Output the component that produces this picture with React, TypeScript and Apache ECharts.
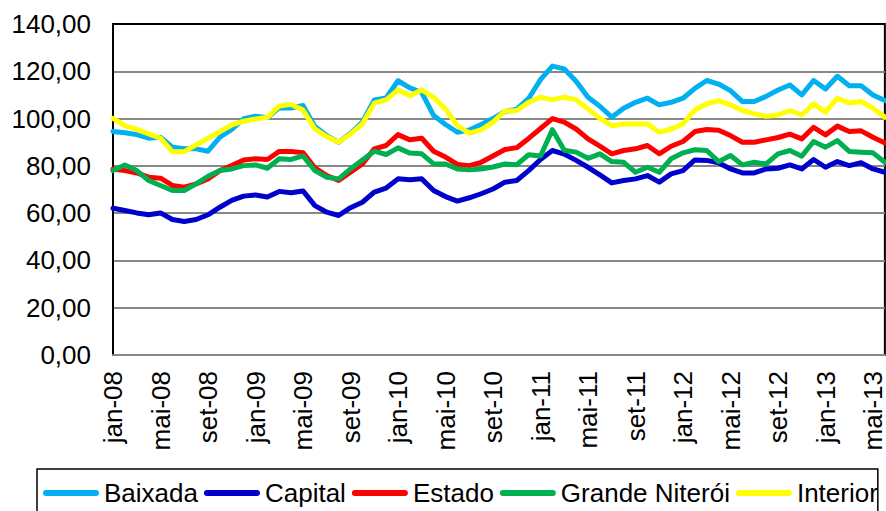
import React, { useEffect, useRef } from "react";
import * as echarts from "echarts";

const MONTHS = ["jan", "fev", "mar", "abr", "mai", "jun", "jul", "ago", "set", "out", "nov", "dez"];
const YEARS = ["08", "09", "10", "11", "12", "13"];
const categories: string[] = [];
YEARS.forEach((y) => MONTHS.forEach((m) => categories.push(`${m}-${y}`)));
categories.splice(66); // jan-08 .. jun-13

const baixada = [
  94.5, 94, 93.2, 91.7, 92.1, 87.9, 87.2, 87.2, 86.2, 92.1, 95.4, 99.9,
  101, 100.4, 104.5, 104.5, 105.5, 96.6, 92.8, 90, 93.8, 98.5, 107.9, 108.7,
  116, 113, 111, 101.3, 97.5, 94.2, 95.2, 97.5, 100, 103, 104, 108.5,
  116.5, 122.2, 121, 115.8, 109, 105.2, 100.6, 104.4, 106.9, 108.6, 105.8, 106.9,
  108.6, 112.8, 116.1, 114.6, 111.8, 107.2, 107.2, 109.4, 112.1, 114.2, 110, 116.1,
  112.5, 117.9, 113.9, 113.9, 110, 107.6,
];
const capital = [
  62.1, 61.1, 60.1, 59.3, 60.1, 57.3, 56.5, 57.3, 59.3, 62.5, 65.4, 67.2,
  67.7, 66.8, 69.2, 68.6, 69.4, 63.2, 60.4, 59, 62.3, 64.6, 68.9, 70.6,
  74.5, 74.1, 74.5, 69.6, 67, 65.1, 66.5, 68.2, 70.2, 73.1, 73.8, 78,
  82.7, 86.5, 85, 82.3, 79.4, 76.2, 72.8, 73.8, 74.5, 75.9, 73.1, 76.6,
  78, 82.5, 82.3, 81.3, 78.7, 77, 77, 78.7, 79, 80.4, 78.7, 82.7,
  79.4, 81.8, 80.1, 81.3, 78.7, 77.3,
];
const estado = [
  78.7, 78, 77, 75.2, 74.8, 71.7, 71, 72.4, 74.5, 78, 80.1, 82.5,
  83, 82.7, 86.1, 86.1, 85.6, 79.2, 75.9, 73.8, 77.3, 80.8, 87.2, 88.6,
  93.2, 91, 91.7, 86.2, 83.7, 80.6, 80.1, 81.5, 84.2, 86.9, 87.7, 91.6,
  95.8, 100, 98.5, 95.6, 91.4, 88.3, 85.1, 86.5, 87.2, 88.6, 85.1, 88.3,
  90.3, 94.5, 95.4, 95.1, 92.8, 90, 90, 91, 92, 93.4, 91.4, 96.3,
  93.1, 96.8, 94.5, 94.8, 92.1, 89.7,
];
const grandeNiteroi = [
  78, 80.4, 78, 73.8, 71.7, 69.6, 69.6, 72.4, 75.6, 78, 78.7, 80.1,
  80.4, 79, 83, 82.7, 84.2, 78, 75.2, 74.5, 78.7, 82.5, 86.2, 84.8,
  87.6, 85.4, 85.1, 80.8, 80.8, 78.7, 78.3, 78.7, 79.5, 80.8, 80.5, 84.7,
  84.2, 95.3, 86.6, 85.8, 83.2, 85.1, 81.8, 81.5, 77.3, 79.4, 77.3, 83,
  85.5, 86.8, 86.5, 81.8, 84.4, 80.4, 81.5, 80.8, 85.1, 86.5, 84.1, 90.3,
  87.9, 90.7, 86.1, 85.8, 85.5, 81.5,
];
const interior = [
  100.1, 97, 95.4, 93.5, 91.7, 86, 86, 88.9, 91.7, 94.5, 97.3, 98.9,
  99.8, 100.5, 105.3, 106, 103.6, 95.6, 92.4, 90, 93.5, 97.7, 106.5, 107.9,
  112.1, 109.7, 112.1, 109, 104.1, 97, 93.8, 95.2, 98.5, 103.2, 103.4, 106.9,
  109, 108, 109, 108, 104.1, 100.1, 97, 97.7, 97.7, 97.7, 94.2, 95.6,
  97.7, 103.7, 106.2, 107.6, 105.8, 103.4, 102, 101, 101.5, 103.4, 101.5, 106.2,
  102.7, 108.6, 106.6, 107.2, 104.4, 100.6,
];

const seriesNames = ["Baixada", "Capital", "Estado", "Grande Niterói", "Interior"];
const seriesColors = ["#00B0F0", "#0000CC", "#FF0000", "#00B050", "#FFFF00"];
const seriesData = [baixada, capital, estado, grandeNiteroi, interior];

const FONT = "'Liberation Sans', Arial, sans-serif";

export default function App() {
  const ref = useRef<HTMLDivElement>(null);
  useEffect(() => {
    if (!ref.current) return;
    const chart = echarts.init(ref.current, undefined, { renderer: "svg" });
    chart.setOption({
      animation: false,
      backgroundColor: "#ffffff",
      textStyle: { fontFamily: FONT },
      grid: {
        left: 113,
        right: -1,
        top: 24,
        bottom: 156,
        show: true,
        borderColor: "#000000",
        borderWidth: 2,
        backgroundColor: "transparent",
      },
      legend: {
        left: 37,
        top: 469,
        orient: "horizontal",
        data: seriesNames,
        icon: "path://M3,0 L53,0 A3,3 0 0 1 53,6 L3,6 A3,3 0 0 1 3,0 Z",
        itemWidth: 56,
        itemHeight: 6,
        itemGap: 6,
        padding: [11, 0, 40, 6],
        borderColor: "#000000",
        borderWidth: 1.5,
        textStyle: { fontFamily: FONT, fontSize: 26, color: "#000000", lineHeight: 26 },
      },
      xAxis: {
        type: "category",
        data: categories,
        boundaryGap: false,
        axisLine: { show: true, lineStyle: { color: "#888888", width: 2 } },
        axisTick: { show: false },
        splitLine: { show: false },
        axisLabel: {
          interval: 3,
          rotate: 90,
          margin: 16,
          fontFamily: FONT,
          fontSize: 26,
          color: "#000000",
        },
      },
      yAxis: {
        type: "value",
        min: 0,
        max: 140,
        interval: 20,
        axisLine: { show: true, lineStyle: { color: "#000000", width: 2 } },
        axisTick: { show: false },
        splitLine: {
          show: true,
          showMinLine: false,
          showMaxLine: false,
          lineStyle: { color: "#888888", width: 2 },
        },
        axisLabel: {
          margin: 22,
          fontFamily: FONT,
          fontSize: 26,
          color: "#000000",
          formatter: (v: number) => v.toFixed(2).replace(".", ","),
        },
      },
      series: seriesNames.map((name, i) => ({
        name,
        type: "line",
        data: seriesData[i],
        showSymbol: false,
        symbol: "none",
        color: seriesColors[i],
        lineStyle: { color: seriesColors[i], width: 5, cap: "round", join: "round" },
      })),
    });
    return () => chart.dispose();
  }, []);
  return (
    <div
      ref={ref}
      style={{ position: "fixed", left: 0, top: 0, width: 886, height: 511 }}
    />
  );
}
